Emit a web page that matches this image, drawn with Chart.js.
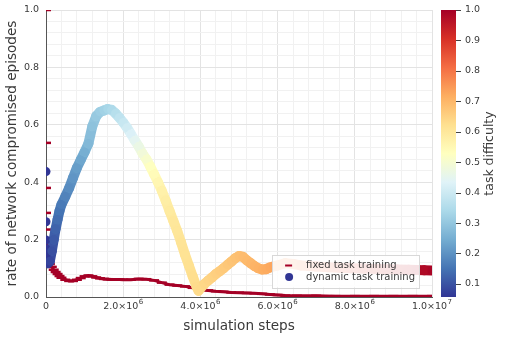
<!DOCTYPE html>
<html><head><meta charset="utf-8">
<script src="https://cdn.jsdelivr.net/npm/chart.js@4"></script>
<style>html,body{margin:0;padding:0;background:#fff}#wrap{width:506px;height:337px}</style>
</head><body><div id="wrap"><canvas id="c" width="506" height="337"></canvas></div>
<script>
const seriesLabels = ['fixed task training', 'dynamic task training'];
const xTitle = 'simulation steps';
const yTitle = 'rate of network compromised episodes';
const cbTitle = 'task difficulty';

const fixedSteps = [0,0,0,0,0,0,50000,100000,150000,200000,250000,300000,350000,400000,500000,600000,700000,800000,900000,1000000,1100000,1200000,1300000,1400000,1500000,1600000,1700000,1800000,1900000,2000000,2200000,2400000,2600000,2800000,3000000,3200000,3400000,3600000,3800000,4000000,4200000,4400000,4600000,4800000,5000000,5200000,5400000,5600000,5800000,6000000,6200000,6500000,7000000,7500000,8000000,8500000,9000000,9500000,10000000];
const fixedRate = [1.0,0.537,0.38,0.293,0.235,0.202,0.125,0.115,0.105,0.095,0.087,0.08,0.073,0.067,0.06,0.056,0.056,0.06,0.066,0.072,0.075,0.072,0.068,0.065,0.063,0.062,0.061,0.061,0.061,0.06,0.06,0.063,0.062,0.058,0.05,0.043,0.04,0.037,0.032,0.027,0.023,0.02,0.018,0.016,0.015,0.014,0.013,0.011,0.009,0.007,0.005,0.004,0.004,0.003,0.003,0.003,0.003,0.003,0.003];
const fixedDifficulty = 1.0;

const dynamicSteps = [0,0,0,0,0,0,50000,100000,150000,200000,250000,300000,350000,400000,500000,600000,700000,800000,900000,1000000,1100000,1200000,1300000,1400000,1500000,1600000,1700000,1800000,1900000,2000000,2100000,2200000,2300000,2400000,2500000,2600000,2700000,2800000,2900000,3000000,3100000,3200000,3300000,3400000,3500000,3600000,3700000,3800000,3900000,3950000,4000000,4100000,4200000,4300000,4400000,4500000,4600000,4700000,4800000,4900000,5000000,5100000,5200000,5300000,5400000,5500000,5600000,5700000,5800000,5900000,6000000,6200000,6400000,6600000,6800000,7000000,7300000,7600000,7900000,8200000,8500000,8800000,9100000,9400000,9600000,9800000,10000000];
const dynamicRate = [0.437,0.262,0.199,0.168,0.145,0.125,0.118,0.125,0.16,0.2,0.238,0.27,0.3,0.322,0.35,0.38,0.415,0.45,0.478,0.505,0.535,0.595,0.63,0.645,0.65,0.655,0.652,0.64,0.625,0.608,0.59,0.568,0.546,0.525,0.5,0.48,0.455,0.428,0.4,0.37,0.336,0.3,0.265,0.23,0.19,0.148,0.11,0.072,0.036,0.022,0.03,0.045,0.057,0.068,0.08,0.09,0.1,0.112,0.123,0.135,0.143,0.14,0.128,0.118,0.108,0.1,0.096,0.097,0.103,0.107,0.11,0.118,0.115,0.11,0.108,0.106,0.104,0.102,0.1,0.099,0.098,0.097,0.096,0.095,0.094,0.093,0.092];
const dynamicDifficulty = [0.057,0.057,0.057,0.057,0.057,0.057,0.065,0.08,0.095,0.11,0.125,0.14,0.15,0.16,0.175,0.19,0.205,0.22,0.235,0.25,0.27,0.29,0.305,0.315,0.325,0.335,0.345,0.36,0.375,0.39,0.405,0.425,0.445,0.465,0.485,0.505,0.525,0.54,0.555,0.57,0.58,0.59,0.6,0.605,0.61,0.615,0.62,0.625,0.63,0.632,0.635,0.64,0.645,0.65,0.655,0.66,0.665,0.67,0.675,0.68,0.685,0.69,0.695,0.7,0.705,0.71,0.715,0.72,0.725,0.73,0.735,0.745,0.76,0.775,0.79,0.805,0.825,0.845,0.865,0.885,0.905,0.925,0.945,0.96,0.97,0.98,0.99];

const xTickValues = [0, 2000000, 4000000, 6000000, 8000000, 10000000];
const xTickMantissa = ['0', '2.0×10', '4.0×10', '6.0×10', '8.0×10', '1.0×10'];
const xTickExponent = ['', '6', '6', '6', '6', '7'];
const yTickValues = [0, 0.2, 0.4, 0.6, 0.8, 1.0];
const yTickLabels = ['0.0', '0.2', '0.4', '0.6', '0.8', '1.0'];
const cbTickValues = [0.1, 0.2, 0.3, 0.4, 0.5, 0.6, 0.7, 0.8, 0.9, 1.0];
const cbTickLabels = ['0.1', '0.2', '0.3', '0.4', '0.5', '0.6', '0.7', '0.8', '0.9', '1.0'];

const RDYLBU = [[49,54,149],[69,117,180],[116,173,209],[171,217,233],[224,243,248],[255,255,191],[254,224,144],[253,174,97],[244,109,67],[215,48,39],[165,0,38]];
const cmin = Math.min(...dynamicDifficulty);
const cmax = Math.max(fixedDifficulty, ...dynamicDifficulty);
function cmap(v) {
  let t = (v - cmin) / (cmax - cmin);
  t = Math.max(0, Math.min(1, t));
  const p = t * 10, i = Math.min(9, Math.floor(p)), f = p - i;
  const a = RDYLBU[i], b = RDYLBU[i + 1];
  const c = a.map((ai, k) => Math.round(ai + (b[k] - ai) * f));
  return `rgb(${c[0]},${c[1]},${c[2]})`;
}

const TXT = '#3a3a3a';
const FONT = 'DejaVu Sans';
Chart.defaults.font.family = FONT;
Chart.defaults.color = TXT;

function sameX(c) { return c.p0.parsed.x === c.p1.parsed.x; }
function isMult(v, m) { return Math.abs(v / m - Math.round(v / m)) < 1e-6; }
function noPad(s) { s.paddingTop = 0; s.paddingBottom = 0; s.paddingLeft = 0; s.paddingRight = 0; }

const xTickPlugin = {
  id: 'xTickLabels',
  afterDraw(chart) {
    const s = chart.scales.x, ctx = chart.ctx;
    ctx.save();
    ctx.fillStyle = TXT; ctx.textBaseline = 'alphabetic'; ctx.textAlign = 'left';
    const base = s.bottom - 0 ;
    xTickValues.forEach((v, i) => {
      ctx.font = `9.5px "${FONT}"`;
      const w1 = ctx.measureText(xTickMantissa[i]).width;
      ctx.font = `7px "${FONT}"`;
      const w2 = xTickExponent[i] ? ctx.measureText(xTickExponent[i]).width + 0.5 : 0;
      const x = s.getPixelForValue(v) - (w1 + w2) / 2;
      const yb = s.top + 11.5;
      ctx.font = `9.5px "${FONT}"`;
      ctx.fillText(xTickMantissa[i], x, yb);
      if (xTickExponent[i]) {
        ctx.font = `7px "${FONT}"`;
        ctx.fillText(xTickExponent[i], x + w1 + 0.5, yb - 5);
      }
    });
    ctx.restore();
  }
};

const colorbarPlugin = {
  id: 'colorbar',
  afterDraw(chart) {
    const s = chart.scales.cb, ca = chart.chartArea, ctx = chart.ctx;
    const x0 = ca.right + 9, w = 15;
    const yTop = s.getPixelForValue(cmax), yBot = s.getPixelForValue(cmin);
    const g = ctx.createLinearGradient(0, yBot, 0, yTop);
    RDYLBU.forEach((c, i) => g.addColorStop(i / 10, `rgb(${c[0]},${c[1]},${c[2]})`));
    ctx.save();
    ctx.fillStyle = g;
    ctx.fillRect(x0, yTop, w, yBot - yTop);
    ctx.strokeStyle = '#444'; ctx.lineWidth = 1;
    cbTickValues.forEach(v => {
      const y = Math.round(s.getPixelForValue(v)) + 0.5;
      ctx.beginPath(); ctx.moveTo(x0 + w, y); ctx.lineTo(x0 + w + 5, y); ctx.stroke();
    });
    ctx.translate(490, (ca.top + ca.bottom) / 2);
    ctx.rotate(-Math.PI / 2);
    ctx.font = `12.5px "${FONT}"`;
    ctx.fillStyle = TXT; ctx.textAlign = 'center'; ctx.textBaseline = 'middle';
    ctx.fillText(cbTitle, 0, 0);
    ctx.restore();
  }
};

const legendPlugin = {
  id: 'innerLegend',
  afterDatasetsDraw(chart) {
    const ca = chart.chartArea, ctx = chart.ctx;
    ctx.save();
    ctx.font = `10px "${FONT}"`;
    const tw = Math.max(...seriesLabels.map(t => ctx.measureText(t).width));
    const w = 34 + tw + 4, h = 32.5;
    const right = ca.right - 13, bottom = ca.bottom - 9.5;
    const left = right - w, top = bottom - h;
    ctx.fillStyle = 'rgba(255,255,255,0.88)';
    ctx.fillRect(left, top, w, h);
    ctx.strokeStyle = '#d8d8d8'; ctx.lineWidth = 1;
    ctx.strokeRect(Math.round(left) + 0.5, Math.round(top) + 0.5, Math.round(w), Math.round(h));
    const y1 = top + 10.5, y2 = top + 22;
    ctx.strokeStyle = cmap(fixedDifficulty); ctx.lineWidth = 2;
    ctx.beginPath(); ctx.moveTo(left + 13, y1); ctx.lineTo(left + 20, y1); ctx.stroke();
    ctx.fillStyle = cmap(dynamicDifficulty[0]);
    ctx.beginPath(); ctx.arc(left + 17, y2, 4, 0, Math.PI * 2); ctx.fill();
    ctx.fillStyle = TXT; ctx.textAlign = 'left'; ctx.textBaseline = 'middle';
    ctx.fillText(seriesLabels[0], left + 34, y1);
    ctx.fillText(seriesLabels[1], left + 34, y2);
    ctx.restore();
  }
};

const MAJOR_GRID = '#e3e3e3', MINOR_GRID = '#f1f1f1', AXIS = '#555';

new Chart(document.getElementById('c'), {
  type: 'scatter',
  data: {
    datasets: [
      {
        label: seriesLabels[1],
        data: dynamicSteps.map((x, i) => ({ x, y: dynamicRate[i] })),
        showLine: true,
        borderWidth: 10,
        borderCapStyle: 'round',
        borderJoinStyle: 'round',
        borderColor: cmap(dynamicDifficulty[0]),
        backgroundColor: cmap(dynamicDifficulty[0]),
        pointRadius: 4.5,
        pointBorderWidth: 0,
        pointBackgroundColor: dynamicDifficulty.map(cmap),
        pointBorderColor: dynamicDifficulty.map(cmap),
        segment: {
          borderColor: c => sameX(c) ? 'rgba(0,0,0,0)' : cmap((dynamicDifficulty[c.p0DataIndex] + dynamicDifficulty[c.p1DataIndex]) / 2)
        },
        clip: 0,
        order: 0
      },
      {
        label: seriesLabels[0],
        data: fixedSteps.map((x, i) => ({ x, y: fixedRate[i] })),
        showLine: true,
        borderWidth: 3,
        borderColor: cmap(fixedDifficulty),
        backgroundColor: cmap(fixedDifficulty),
        pointStyle: 'line',
        pointRadius: 5,
        pointBorderWidth: 2.5,
        pointBorderColor: cmap(fixedDifficulty),
        segment: { borderColor: c => sameX(c) ? 'rgba(0,0,0,0)' : undefined },
        clip: 0,
        order: 1
      }
    ]
  },
  options: {
    responsive: false,
    devicePixelRatio: 1,
    animation: false,
    layout: { padding: { top: 10, left: 0, right: 0, bottom: 0 } },
    plugins: { legend: { display: false }, tooltip: { enabled: false } },
    scales: {
      x: {
        type: 'linear', min: 0, max: 10000000,
        afterFit: s => { s.height = 40; noPad(s); },
        ticks: { stepSize: 400000, autoSkip: false, maxRotation: 0, display: false },
        grid: {
          drawTicks: false,
          color: c => (c.tick && isMult(c.tick.value, 2000000)) ? MAJOR_GRID : MINOR_GRID
        },
        border: { display: true, color: AXIS, width: 1 },
        title: { display: true, text: xTitle, font: { size: 13.6 }, color: TXT, padding: { top: 0, bottom: 2 } }
      },
      y: {
        type: 'linear', min: 0, max: 1,
        afterFit: s => { s.width = 46; noPad(s); },
        ticks: {
          stepSize: 0.04, autoSkip: false, padding: 7,
          font: { size: 9.5 }, color: TXT,
          callback: v => { const i = yTickValues.findIndex(t => Math.abs(t - v) < 1e-6); return i >= 0 ? yTickLabels[i] : ''; }
        },
        grid: {
          drawTicks: false,
          color: c => (c.tick && isMult(c.tick.value, 0.2)) ? MAJOR_GRID : MINOR_GRID
        },
        border: { display: true, color: AXIS, width: 1 },
        title: { display: true, text: yTitle, font: { size: 13.6 }, color: TXT, padding: { top: 4, bottom: 4 } }
      },
      cb: {
        axis: 'y', type: 'linear', position: 'right',
        min: cmin, max: cmax,
        afterFit: s => { s.width = 74; noPad(s); },
        afterBuildTicks: s => { s.ticks = cbTickValues.map(v => ({ value: v })); },
        ticks: {
          padding: 33, font: { size: 9.5 }, color: TXT,
          callback: (v, i) => cbTickLabels[i]
        },
        grid: { display: false, drawTicks: false },
        border: { display: false }
      }
    }
  },
  plugins: [xTickPlugin, colorbarPlugin, legendPlugin]
});
</script>
</body></html>
